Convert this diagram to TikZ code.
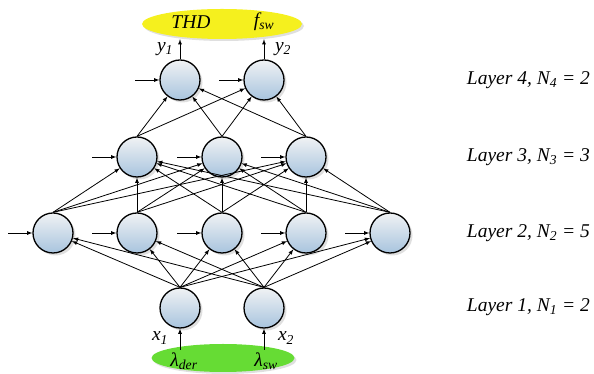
\documentclass[tikz,border=0pt]{standalone}
\usepackage{fontspec}
\setmainfont{Liberation Serif}
\usetikzlibrary{positioning, arrows, shapes.geometric, shadows}
\definecolor{nbot}{RGB}{168,196,222}
\definecolor{ntop}{RGB}{240,242,244}
\definecolor{ylw}{RGB}{245,240,30}
\definecolor{grn}{RGB}{102,220,52}

\begin{document}
\begin{tikzpicture}[x=1pt, y=1pt, >=latex,
		every edge/.style = {draw=black, line width=0.8pt, ->},
		neur/.style = {circle, draw, line width=1.3pt, minimum size=40pt, inner sep=0pt,
			top color=ntop, bottom color=nbot,
			drop shadow={opacity=0.25, shadow xshift=2.5pt, shadow yshift=-2.5pt}},
		blob/.style args = {#1/#2}{ellipse, fill=#1, minimum width=#2, inner sep=0pt,
			drop shadow={opacity=0.25, shadow xshift=2pt, shadow yshift=-2pt}},
		lbl/.style = {font=\rmfamily\fontsize{19.5}{22}\selectfont\itshape, inner sep=1pt}
                    ]
		\useasboundingbox (0,0) rectangle (594,374);

		\node(Yel) [blob=ylw/160pt, minimum height=30pt] at (222,350) {};
		\node(Grn) [blob=grn/143pt, minimum height=28pt] at (223,16) {};

		\node(D1) [neur] at (180,294) {};
		\node(D2) [neur] at (264,294) {};
		\node(C1) [neur] at (137,217) {};
		\node(C2) [neur] at (222,217) {};
		\node(C3) [neur] at (306,217) {};
		\node(H1) [neur] at (53,141) {};
		\node(H2) [neur] at (137,141) {};
		\node(H3) [neur] at (222,141) {};
		\node(H4) [neur] at (306,141) {};
		\node(H5) [neur] at (390,141) {};
		\node(B1) [neur] at (180,66) {};
		\node(B2) [neur] at (264,66) {};

		\node(THD) [lbl] at (191,352) {THD};
		\node(Fsw) [lbl] at (264,352) {f\textsubscript{sw}};
		\node(Y1)  [lbl] at (165,325) {y\textsubscript{1}};
		\node(Y2)  [lbl] at (283,325) {y\textsubscript{2}};
		\node(X1)  [lbl] at (160,36) {x\textsubscript{1}};
		\node(X2)  [lbl] at (286,36) {x\textsubscript{2}};
		\node(Lder) [lbl] at (184,13) {λ\textsubscript{der}};
		\node(Lsw)  [lbl] at (266,13) {λ\textsubscript{sw}};

		\node(L4) [lbl, anchor=east] at (591,294) {Layer 4, N\textsubscript{4} = 2};
		\node(L3) [lbl, anchor=east] at (591,217) {Layer 3, N\textsubscript{3} = 3};
		\node(L2) [lbl, anchor=east] at (591,141) {Layer 2, N\textsubscript{2} = 5};
		\node(L1) [lbl, anchor=east] at (591,67) {Layer 1, N\textsubscript{1} = 2};

		% inputs and outputs
		\path   ([yshift=8pt]B1.south |- Grn.center) edge (B1.south)
		        ([yshift=8pt]B2.south |- Grn.center) edge (B2.south)
		        (D1.north) edge (D1.north |- Yel.south)
		        (D2.north) edge (D2.north |- Yel.south);

		% bias arrows
		\path   (H1.west) edge[<-] +(-24,0)
		        (H2.west) edge[<-] +(-24,0)
		        (H3.west) edge[<-] +(-24,0)
		        (H4.west) edge[<-] +(-24,0)
		        (H5.west) edge[<-] +(-24,0)
		        (C1.west) edge[<-] +(-24,0)
		        (C2.west) edge[<-] +(-24,0)
		        (C3.west) edge[<-] +(-24,0)
		        (D1.west) edge[<-] +(-24,0)
		        (D2.west) edge[<-] +(-24,0);

		% layer 1 to layer 2
		\path   (B1.north) edge (H1) edge (H2) edge (H3) edge (H4) edge (H5)
		        (B2.north) edge (H1) edge (H2) edge (H3) edge (H4) edge (H5);

		% layer 2 to layer 3
		\path   (H1.north) edge (C1) edge (C2) edge (C3)
		        (H2.north) edge (C1) edge (C2) edge (C3)
		        (H3.north) edge (C1) edge (C2) edge (C3)
		        (H4.north) edge (C1) edge (C2) edge (C3)
		        (H5.north) edge (C1) edge (C2) edge (C3);

		% layer 3 to layer 4
		\path   (C1.north) edge (D1) edge (D2)
		        (C2.north) edge (D1) edge (D2)
		        (C3.north) edge (D1) edge (D2);
	\end{tikzpicture}
\end{document}
